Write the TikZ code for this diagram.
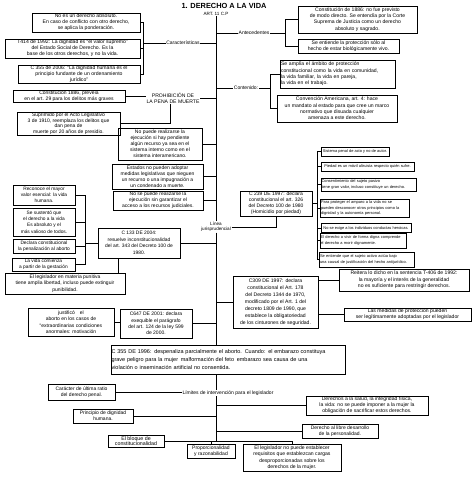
\documentclass[tikz,border=0pt]{standalone}
\usepackage{fontspec}
\setmainfont{Liberation Sans}
\newcommand\fz[2]{\fontsize{#1}{#2}\selectfont}
\begin{document}
\begin{tikzpicture}[x=1pt,y=-1pt,
  bx/.style={draw,line width=0.7pt,inner sep=0.5pt,align=center},
  rbx/.style={draw,line width=0.7pt,inner sep=0.5pt,align=left,font=\fz{3.95}{5.6}},
  lbl/.style={inner sep=0.5pt,align=center},
  ln/.style={line width=0.6pt}]
\useasboundingbox[fill=white] (0,0) rectangle (474,479);
% guide coordinates
\coordinate (tr) at (216,0);
\coordinate (bc) at (143,0);
\coordinate (ba) at (285,0);
\coordinate (bn) at (270,0);
\coordinate (br) at (317,0);
\coordinate (bl) at (85,0);
\coordinate (kc) at (118,0);
\coordinate (kp) at (170,0);
\coordinate (bar) at (216,441);

% title
\node[lbl,font=\fz{7.4}{8}\bfseries] (title) at (224,6) {1. DERECHO A LA VIDA};
\node[lbl,font=\fz{4.6}{5}] (art) at (216,14) {ART. 11 C.P};

% Caracteristicas
\node[bx,minimum width=108pt,minimum height=19pt,font=\fz{5.1}{6}] (c1) at (86,22.5) {No es un derecho absoluto.\\En caso de conflicto con otro derecho,\\se aplica la ponderación.};
\node[bx,minimum width=135pt,minimum height=19pt,font=\fz{5.1}{6}] (c2) at (72.5,48.5) {T414 de 1992: La dignidad es ``el valor supremo''\\del Estado Social de Derecho. Es la\\base de los otros derechos, y no la vida.};
\node[bx,minimum width=122pt,minimum height=18pt,font=\fz{5.1}{6}] (c3) at (79,74) {C 355 de 2006: ``La dignidad humana es el\\principio fundante de un ordenamiento\\jurídico''};
\node[lbl,font=\fz{5}{6}] (cara) at (183,43) {Características};

% Antecedentes
\node[lbl,font=\fz{5}{6}] (ante) at (254,33) {Antecedentes};
\node[bx,minimum width=119pt,minimum height=27pt,font=\fz{5.1}{6.3}] (a1) at (357.5,19.5) {Constitución de 1886: no fue previsto\\de modo directo. Se entendía por la Corte\\Suprema de Justicia como un derecho\\absoluto y sagrado.};
\node[bx,minimum width=101pt,minimum height=14pt,font=\fz{5.1}{6}] (a2) at (348.5,46) {Se entiende la protección sólo al\\hecho de estar biológicamente vivo.};

% Contenido
\node[lbl,font=\fz{5}{6}] (cont) at (246,88) {Contenido:};
\node[bx,text width=114pt,align=left,minimum height=28pt,font=\fz{5.1}{6.3}] (n1) at (338,74) {Se amplía el ámbito de protección\\constitucional como la vida en comunidad,\\la vida familiar, la vida en pareja,\\la vida en el trabajo.};
\node[bx,minimum width=120pt,minimum height=27pt,font=\fz{5.1}{6.3}] (n2) at (337,108.5) {Convención Americana, art. 4: hace\\un mandato al estado para que cree un marco\\normativo que disuada cualquier\\amenaza a este derecho.};

% Prohibicion
\node[lbl,font=\fz{5.1}{6}] (proh) at (173,98) {PROHIBICIÓN DE\\LA PENA DE MUERTE};
\node[bx,minimum width=112pt,minimum height=12pt,font=\fz{5}{5.6}] (p1) at (69,96) {Constitución 1886, preveía\\en el art. 29 para los delitos más graves};
\node[bx,minimum width=103pt,minimum height=23pt,font=\fz{5}{5.5}] (p2) at (68.5,123.5) {Suprimido por el Acto Legislativo\\3 de 1910, reemplaza los delitos que\\dan pena de\\muerte por 20 años de presidio.};
\node[bx,minimum width=84pt,minimum height=32pt,font=\fz{5}{6.1}] (p3) at (160,144) {No puede realizarse la\\ejecución si hay pendiente\\algún recurso ya sea en el\\sistema interno como en el\\sistema interamericano.};
\node[bx,minimum width=91pt,minimum height=25pt,font=\fz{5}{5.9}] (p4) at (157.5,176.5) {Estados no pueden adoptar\\medidas legislativas que nieguen\\un recurso o una impugnación a\\un condenado a muerte.};
\node[bx,minimum width=90pt,minimum height=19pt,font=\fz{5}{5.9}] (p5) at (158,200.5) {No se puede realizarse la\\ejecución sin garantizar el\\acceso a los recursos judiciales.};

% Linea jurisprudencial
\node[lbl,font=\fz{4.6}{5.4}] (linea) at (216,227) {Línea\\jurisprudencial};
\node[bx,minimum width=72pt,minimum height=25pt,font=\fz{5}{5.9}] (c239) at (276,203.5) {C 239 DE 1997: declara\\constitucional el art. 326\\del Decreto 100 de 1980\\(Homicidio por piedad)};
\node[rbx,minimum width=68pt,minimum height=9pt] (r1) at (355,151.5) {Sistema penal de acto y no de autor.};
\node[rbx,minimum width=93pt,minimum height=9pt] (r2) at (367.5,166.5) {Piedad es un móvil altruista respecto quién sufre.};
\node[rbx,text width=94pt,minimum height=13pt] (r3) at (368.5,184.5) {Consentimiento del sujeto pasivo\\tiene gran valor, incluso constituye un derecho.};
\node[rbx,text width=88pt,minimum height=18pt] (r4) at (365,208) {Para proteger el amparo a la vida no se\\pueden desconocer otros principios como la\\dignidad y la autonomía personal.};
\node[rbx,minimum width=90pt,minimum height=9pt] (r5) at (366,228) {No se exige a los individuos conductas heroicas.};
\node[rbx,text width=85pt,minimum height=15pt] (r6) at (363,240.5) {El derecho a vivir de forma digna comprende\\el derecho a morir dignamente.};
\node[rbx,text width=94pt,minimum height=15pt] (r7) at (367,259.5) {Se entiende que el sujeto activo actúa bajo\\una causal de justificación del hecho antijurídico.};

% Left block C133
\node[bx,minimum width=62pt,minimum height=20pt,font=\fz{4.8}{6}] (l1) at (44,195) {Reconoce el mayor\\valor esencial: la vida\\humana.};
\node[bx,minimum width=62pt,minimum height=28pt,font=\fz{4.8}{6.4}] (l2) at (44,222) {Se sustentó que\\el derecho a la vida\\Es absoluto y el\\más valioso de todos.};
\node[bx,minimum width=62pt,minimum height=14pt,font=\fz{4.8}{6}] (l3) at (44,246) {Declara constitucional\\la penalización al aborto};
\node[bx,minimum width=63pt,minimum height=13pt,font=\fz{4.8}{6}] (l4) at (43.5,264.5) {La vida comienza\\a partir de la gestación};
\node[bx,minimum width=82pt,minimum height=30pt,font=\fz{4.9}{6.6}] (c133) at (139,243) {C 133 DE 2004:\\resuelve inconstitucionalidad\\del art. 343 del Decreto 100 de\\1980.};
\node[bx,minimum width=120pt,minimum height=21pt,font=\fz{5}{6.3}] (l5) at (65,283.5) {El legislador en materia punitiva\\tiene amplia libertad, incluso puede extinguir\\punibilidad.};

% C647
\node[bx,minimum width=86pt,minimum height=28pt,font=\fz{5}{6.4}] (j1) at (71,322) {justificó\quad el\\aborto en los casos de\\``extraordinarias condiciones\\anormales: motivación};
\node[bx,minimum width=72pt,minimum height=29pt,font=\fz{5}{6.4}] (c647) at (156,323.5) {C647 DE 2001: declara\\exequible el parágrafo\\del art. 124 de la ley 599\\de 2000.};

% C309
\node[bx,minimum width=85pt,minimum height=52pt,font=\fz{5.1}{7.1}] (c309) at (275.5,302) {C309 DE 1997: declara\\constitucional el Art. 178\\del Decreto 1344 de 1970,\\modificado por el Art. 1 del\\decreto 1809 de 1990, que\\establece la obligatoriedad\\de los cinturones de seguridad.};
\node[bx,minimum width=130pt,minimum height=22pt,font=\fz{5.1}{6.4}] (t1) at (404,280) {Reitera lo dicho en la sentencia T-406 de 1992:\\la mayoría y el interés de la generalidad\\no es suficiente para restringir derechos.};
\node[bx,minimum width=127pt,minimum height=13pt,font=\fz{5.1}{6}] (t2) at (407.5,314.5) {Las medidas de protección pueden\\ser legítimamente adoptadas por el legislador};

% C355
\node[bx,text width=233pt,align=left,minimum height=29pt,font=\fz{5.5}{7.6}] (c355) at (228,359.5) {C 355 DE 1996: despenaliza parcialmente el aborto. Cuando: el embarazo constituya\\grave peligro para la mujer\enspace malformación del feto\enspace embarazo sea causa de una\\violación o inseminación artificial no consentida.};

% Limites
\node[lbl,font=\fz{5}{6},fill=white] (lim) at (228,393) {Límites de intervención para el legislador};
\node[bx,minimum width=67pt,minimum height=16pt,font=\fz{5}{6}] (b1) at (81.5,392) {Carácter de última ratio\\del derecho penal.};
\node[bx,minimum width=122pt,minimum height=19pt,font=\fz{5.1}{6}] (b2) at (367,405.5) {Derechos a la salud, la integridad física,\\la vida: no se puede imponer a la mujer la\\obligación de sacrificar estos derechos.};
\node[bx,minimum width=60pt,minimum height=14pt,font=\fz{5}{6}] (b3) at (103,416) {Principio de dignidad\\humana.};
\node[bx,minimum width=76pt,minimum height=14pt,font=\fz{5}{6}] (b4) at (340,431) {Derecho al libre desarrollo\\de la personalidad.};
\node[bx,minimum width=56pt,minimum height=12pt,font=\fz{5.3}{5.6}] (b5) at (136,441) {El bloque de\\constitucionalidad};
\node[bx,minimum width=48pt,minimum height=14pt,font=\fz{5}{6}] (b6) at (211,451) {Proporcionalidad\\y razonabilidad};
\node[bx,minimum width=98pt,minimum height=27pt,font=\fz{5.1}{6.4}] (b7) at (292,457.5) {El legislador no puede establecer\\requisitos que establezcan cargas\\desproporcionadas sobre los\\derechos de la mujer.};

% ---------- connectors ----------
% trunk
\draw[ln] (tr |- art.south) -- (tr |- linea.north);
\draw[ln] (tr |- linea.south) -- (tr |- c355.north);
% caracteristicas
\draw[ln] (c1.east) -- (c1.east -| bc) -- (c3.east -| bc) -- (c3.east);
\draw[ln] (c2.east) -- (c2.east -| bc);
\draw[ln] (cara.west -| bc) -- (cara.west);
\draw[ln] (cara.east) -- (cara.east -| tr);
% antecedentes
\draw[ln] (tr |- ante.west) -- (ante.west);
\draw[ln] (ante.east) -- (ante.east -| ba);
\draw[ln] (a1.west) -- (a1.west -| ba) -- (a2.west -| ba) -- (a2.west);
% contenido
\draw[ln] (tr |- cont.west) -- (cont.west);
\draw[ln] (cont.east) -- (cont.east -| bn);
\draw[ln] (n1.west) -- (n1.west -| bn) -- (n2.west -| bn) -- (n2.west);
% prohibicion
\draw[ln] (p1.east) -- (p1.east -| proh.west);
\draw[ln] (proh.east) -- (proh.east -| tr);
\draw[ln] (proh.south -| kp) |- (p2.east);
\draw[ln] (p3.east) -- (p3.east -| tr);
\draw[ln] (p4.east) -- (p4.east -| tr);
\draw[ln] (p5.east) -- (p5.east -| tr);
% linea jurisprudencial
\draw[ln] (linea.east) -| (c239.south);
\draw[ln] (c239.east) -- (c239.east -| br);
\draw[ln] (r1.west -| br) -- (r7.west -| br);
\foreach \r in {r1,r2,r3,r4,r5,r6,r7} \draw[ln] (\r.west -| br) -- (\r.west);
% C133 block
\draw[ln] (l1.east -| bl) -- (l4.east -| bl);
\foreach \l in {l1,l2,l3,l4} \draw[ln] (\l.east) -- (\l.east -| bl);
\draw[ln] (c133.west -| bl) -- (c133.west);
\draw[ln] (c133.east) -- (c133.east -| tr);
\draw[ln] (kc |- c133.south) -- (kc |- l5.north);
% C647
\draw[ln] (j1.east) -- (j1.east -| c647.west);
\draw[ln] (c647.east) -- (c647.east -| tr);
% C309
\draw[ln] (tr |- c309.west) -- (c309.west);
\draw[ln] (c309.east |- t1.west) -- (t1.west);
\draw[ln] (c309.east |- t2.west) -- (t2.west);
% limites
\draw[ln] (tr |- c355.south) -- (tr |- lim.north);
\draw[ln] (tr |- lim.south) -- (bar);
\draw[ln] (b1.east) -- (b1.east -| lim.west);
\draw[ln] (tr |- b2.west) -- (b2.west);
\draw[ln] (b3.east) -- (b3.east -| tr);
\draw[ln] (tr |- b4.west) -- (b4.west);
\draw[ln] (b5.east) -- (b5.east -| tr);
\draw[ln] (b6.north |- bar) -- (b7.north |- bar);
\draw[ln] (b6.north |- bar) -- (b6.north);
\draw[ln] (b7.north |- bar) -- (b7.north);
\end{tikzpicture}
\end{document}
